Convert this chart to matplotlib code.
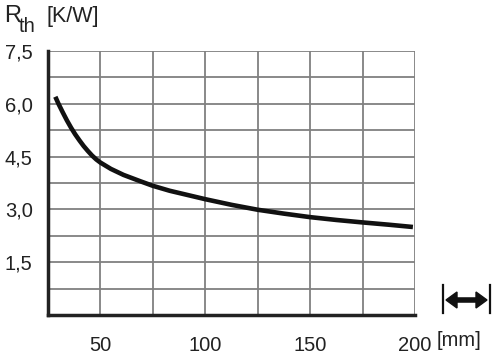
import matplotlib
matplotlib.use("Agg")
import matplotlib.pyplot as plt
from matplotlib.patches import Polygon
from matplotlib.lines import Line2D

# Data
length_mm = [28.5, 30, 32, 34, 36, 38, 40, 42, 44, 46, 48, 50, 55, 61,
             69, 75, 83, 100, 112.5, 125, 137.5, 150, 162.5, 175, 187.5, 199]
rth_kw = [6.2, 6.0, 5.76, 5.53, 5.32, 5.13, 4.96, 4.8, 4.66, 4.53, 4.42,
          4.33, 4.15, 3.98, 3.80, 3.67, 3.53, 3.29, 3.13, 2.99, 2.88, 2.78,
          2.70, 2.63, 2.565, 2.50]

x_ticks = [50, 100, 150, 200]
x_ticklabels = ["50", "100", "150", "200"]
y_ticks = [1.5, 3.0, 4.5, 6.0, 7.5]
y_ticklabels = ["1,5", "3,0", "4,5", "6,0", "7,5"]

plt.rcParams['font.family'] = ['Liberation Sans', 'DejaVu Sans']
W, H = 500, 359
fig = plt.figure(figsize=(W / 100, H / 100), dpi=100)
ax = fig.add_axes([48 / W, 1 - 315 / H, (415 - 48) / W, (315 - 51) / H])

ax.set_xlim(25, 200)
ax.set_ylim(0, 7.5)

grid_c = "#808080"
for gx in range(50, 201, 25):
    ax.axvline(gx, color=grid_c, lw=1.3, zorder=1)
for i in range(1, 11):
    ax.axhline(0.75 * i, color=grid_c, lw=1.3, zorder=1)

ax.plot(length_mm, rth_kw, color="#111111", lw=3.3, solid_capstyle="butt",
        solid_joinstyle="round", zorder=3)

for s in ["top", "right"]:
    ax.spines[s].set_visible(False)
for s in ["left", "bottom"]:
    ax.spines[s].set_linewidth(2.5)
    ax.spines[s].set_color("#222222")

ax.set_xticks(x_ticks)
ax.set_xticklabels(x_ticklabels)
ax.set_yticks(y_ticks)
ax.set_yticklabels(y_ticklabels)
ax.tick_params(axis="both", length=0, labelsize=14.5, colors="#222222")
ax.tick_params(axis="x", pad=15)
ax.tick_params(axis="y", pad=11)
for lbl in ax.get_yticklabels():
    lbl.set_verticalalignment("center_baseline")

txt_c = "#222222"
# unit on x axis
fig.text(437 / W, 1 - 341 / H, "[mm]", fontsize=14.5, color=txt_c, va="center", ha="left")
# y-axis title
fig.text(4 / W, 1 - 22 / H, "R", fontsize=17, color=txt_c, va="baseline", ha="left")
fig.text(19 / W, 1 - 32 / H, "th", fontsize=14.5, color=txt_c, va="baseline", ha="left")
fig.text(47 / W, 1 - 22 / H, "[K/W]", fontsize=15.5, color=txt_c, va="baseline", ha="left")

# double arrow icon (figure pixel coordinates)
def fp(x, y):
    return (x / W, 1 - y / H)

ic = "#111111"
fig.add_artist(Line2D([443 / W, 443 / W], [1 - 313 / H, 1 - 285 / H], color=ic, lw=1.6))
fig.add_artist(Line2D([490 / W, 490 / W], [1 - 313 / H, 1 - 285 / H], color=ic, lw=1.6))
yc = 300
fig.add_artist(Line2D([455 / W, 478 / W], [1 - yc / H, 1 - yc / H], color=ic, lw=4,
                      solid_capstyle="butt"))
fig.add_artist(Polygon([fp(446, yc), fp(457, yc - 8), fp(457, yc + 8)],
                       closed=True, transform=fig.transFigure, color=ic))
fig.add_artist(Polygon([fp(487, yc), fp(476, yc - 8), fp(476, yc + 8)],
                       closed=True, transform=fig.transFigure, color=ic))

fig.savefig("out.png", dpi=100)
